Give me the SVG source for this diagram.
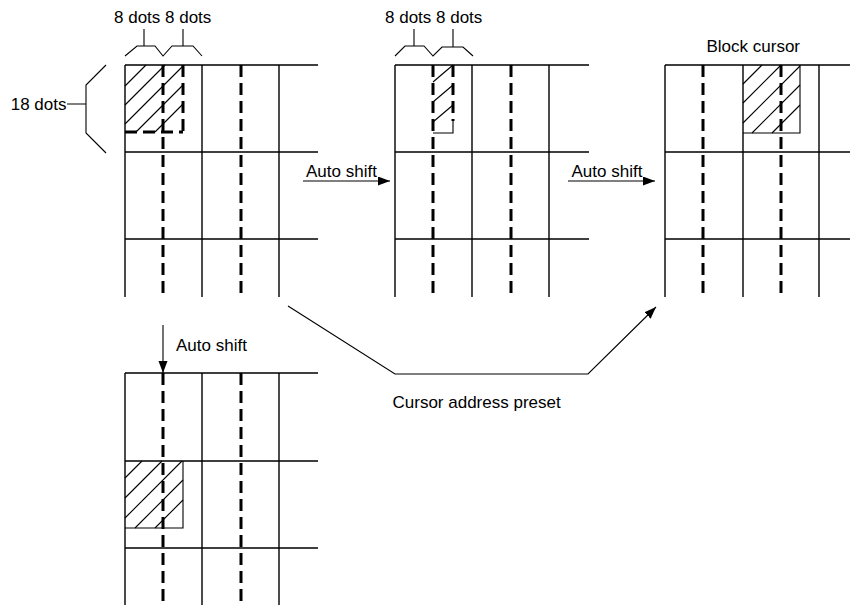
<svg xmlns="http://www.w3.org/2000/svg" width="850" height="607" viewBox="0 0 850 607">
<style>
.g{stroke:#000;stroke-width:1.4;fill:none}
.d{stroke:#000;stroke-width:3;fill:none;stroke-dasharray:12 6}
.h{stroke:#000;stroke-width:1.1;fill:none}
.c{stroke:#000;stroke-width:1.1;fill:none}
text{font-family:"Liberation Sans",Arial,sans-serif;font-size:17px;fill:#000}
</style>
<defs>
<marker id="ah" markerUnits="userSpaceOnUse" markerWidth="13" markerHeight="10" refX="12" refY="4.5" orient="auto">
<path d="M0,0 L12,4.5 L0,9 z" fill="#000"/>
</marker>
</defs>

<g id="grid1">
<path class="g" d="M125,65H318M125,152H318M125,239H318M125,65V297M202,65V297M279,65V297"/>
<path class="d" d="M163,65V297M241,65V297"/>
<path class="h" d="M125,86L146,65M125,105L165,65M125,124L183,66M136,132L183,85M155,132L183,104"/>
<path class="d" d="M125,132H183M183,65V132"/>
<path class="c" d="M125,56L137,46H155L163,56L172,46H193L202,56M144,29V46M183,29V46"/>
<path class="c" d="M106,65L86,85V133L106,153M67,104H86"/>
<text x="114" y="23">8 dots 8 dots</text>
<text x="66.5" y="110" text-anchor="end">18 dots</text>
</g>

<g id="grid2">
<path class="g" d="M395,65H589M395,152H589M395,239H589M395,65V297M472,65V297M549,65V297"/>
<path class="d" d="M433,65V297M511,65V297"/>
<path class="h" d="M433,82L453,65M433,102L453,85M433,122L453,105M433,133H453V121"/>
<path class="d" d="M453,65V121"/>
<path class="c" d="M395,56L405,46H424L433,56L442,47H463L473,56M414,29V46M453,29V47"/>
<text x="385" y="23">8 dots 8 dots</text>
</g>

<g id="grid3">
<path class="g" d="M665,65H850M665,152H850M665,239H850M665,65V297M743,65V297M819,65V297"/>
<path class="d" d="M703,65V297M781,65V297"/>
<path class="h" d="M743,84L762,65M743,103L781,65M743,123L800,66M752,133L800,85M772,133L800,105"/>
<path class="h" d="M743,133H800V65"/>
<text x="706.5" y="51.5">Block cursor</text>
</g>

<g id="grid4">
<path class="g" d="M125,373H318M125,461H318M125,548H318M125,373V605M202,373V605M279,373V605"/>
<path class="d" d="M163,373V607M241,373V607"/>
<path class="h" d="M125,478L142,461M125,498L162,461M125,518L182,461M135,528L183,480M155,528L183,500"/>
<path class="h" d="M125,528H183V461"/>
</g>

<g id="connectors">
<path class="c" d="M303,181H390" marker-end="url(#ah)"/>
<path class="c" d="M568,181H655" marker-end="url(#ah)"/>
<path class="c" d="M163,325V373" marker-end="url(#ah)"/>
<path class="c" d="M288,306L395,374H588L656,307" marker-end="url(#ah)"/>
<text x="306" y="176.5">Auto shift</text>
<text x="571.5" y="176.5">Auto shift</text>
<text x="176" y="350.5">Auto shift</text>
<text x="392.5" y="408">Cursor address preset</text>
</g>
</svg>
